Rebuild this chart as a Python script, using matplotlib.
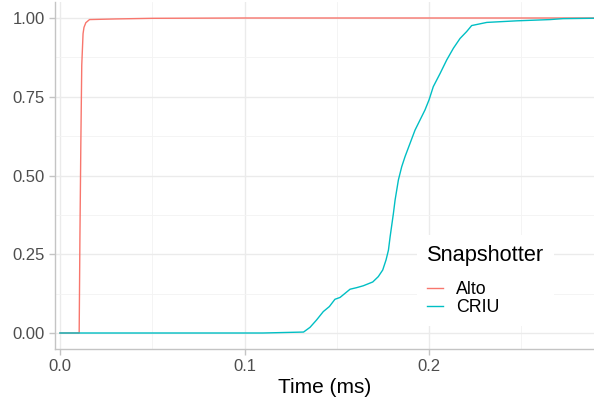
import matplotlib
matplotlib.use("Agg")
import matplotlib.pyplot as plt
from matplotlib.ticker import MultipleLocator

plt.rcParams['font.family'] = ['Liberation Sans', 'DejaVu Sans']

# ECDF curves (time in ms, cumulative fraction)
alto_time = [0.0, 0.0104, 0.0108, 0.0113, 0.0118, 0.0125, 0.0130, 0.0140,
             0.0160, 0.0300, 0.0500, 0.1000, 0.3000]
alto_cdf = [0.0, 0.0, 0.30, 0.60, 0.85, 0.95, 0.970, 0.985,
            0.995, 0.997, 0.999, 1.0, 1.0]

criu_time = [0.0, 0.110, 0.132, 0.1355, 0.139, 0.1427, 0.146, 0.149, 0.1518,
             0.1545, 0.1572, 0.1608, 0.1644, 0.1695, 0.1725, 0.1749, 0.1767,
             0.178, 0.1789, 0.1807, 0.1816, 0.1834, 0.1852, 0.187, 0.1897,
             0.1924, 0.1951, 0.1978, 0.200, 0.2023, 0.206, 0.2096, 0.2132,
             0.2168, 0.2204, 0.2231, 0.2313, 0.2475, 0.2656, 0.2726, 0.300]
criu_cdf = [0.0, 0.0, 0.003, 0.018, 0.041, 0.068, 0.084, 0.107, 0.113,
            0.126, 0.139, 0.144, 0.150, 0.162, 0.179, 0.200, 0.232,
            0.263, 0.305, 0.380, 0.422, 0.486, 0.528, 0.560, 0.602,
            0.644, 0.676, 0.708, 0.740, 0.782, 0.824, 0.867, 0.904,
            0.935, 0.957, 0.976, 0.986, 0.991, 0.995, 0.998, 1.0]

series_names = ["Alto", "CRIU"]
series_colors = ["#F8766D", "#00BFC4"]
x_ticks = [0.0, 0.1, 0.2]
x_tick_labels = ["0.0", "0.1", "0.2"]
y_ticks = [0.0, 0.25, 0.50, 0.75, 1.00]
y_tick_labels = ["0.00", "0.25", "0.50", "0.75", "1.00"]

W, H = 594, 404
fig = plt.figure(figsize=(W / 100, H / 100), dpi=100)
left, right, top, bottom = 55, 594, 2.25, 348.75
ax = fig.add_axes([left / W, 1 - bottom / H, (right - left) / W, (bottom - top) / H])

ax.plot(alto_time, alto_cdf, color=series_colors[0], lw=1.0, label=series_names[0], zorder=3)
ax.plot(criu_time, criu_cdf, color=series_colors[1], lw=1.0, label=series_names[1], zorder=3)

ax.set_xlim(-0.0027, 0.2894)
ax.set_ylim(-0.05, 1.05)
ax.set_xticks(x_ticks)
ax.set_xticklabels(x_tick_labels)
ax.set_yticks(y_ticks)
ax.set_yticklabels(y_tick_labels)
ax.xaxis.set_minor_locator(MultipleLocator(0.05))
ax.yaxis.set_minor_locator(MultipleLocator(0.125))

ax.grid(True, which='major', color='#EBEBEB', lw=1.0, zorder=0)
ax.grid(True, which='minor', color='#F3F3F3', lw=0.6, zorder=0)
ax.set_axisbelow(True)

for s in ['top', 'right']:
    ax.spines[s].set_visible(False)
for s in ['left', 'bottom']:
    ax.spines[s].set_color('#C4C4C4')
    ax.spines[s].set_linewidth(1.0)

ax.tick_params(which='major', length=4.5, width=1.0, color='#C4C4C4',
               labelsize=12, labelcolor='#4D4D4D', pad=3)
ax.tick_params(which='minor', length=0)

ax.set_xlabel("Time (ms)", fontsize=15, color='black', labelpad=3)

leg = ax.legend(loc='upper left', bbox_to_anchor=(417 / W, 1 - 235 / H),
                bbox_transform=fig.transFigure, title="Snapshotter",
                fontsize=12.8, title_fontsize=15.7, frameon=True, fancybox=False,
                handlelength=0.9, handletextpad=0.75, labelspacing=0.05,
                borderpad=0.55, borderaxespad=0)
leg._legend_box.align = "left"
leg._legend_box.sep = 11
leg.get_frame().set_facecolor('white')
leg.get_frame().set_edgecolor('none')
leg.get_frame().set_alpha(1)

fig.savefig("out.png", dpi=100)
